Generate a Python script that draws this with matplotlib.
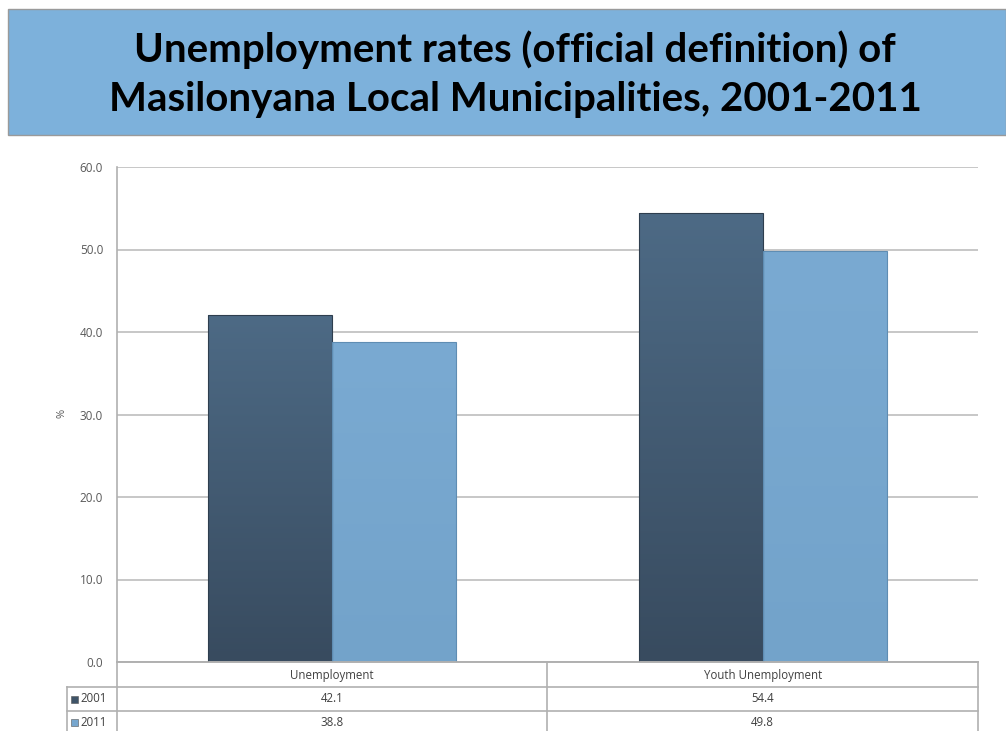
import matplotlib
matplotlib.use("Agg")
import matplotlib.pyplot as plt
import numpy as np
from matplotlib.patches import Rectangle
import matplotlib.transforms as mtransforms

categories = ["Unemployment", "Youth Unemployment"]
series_names = ["2001", "2011"]
values_2001 = [42.1, 54.4]
values_2011 = [38.8, 49.8]
yticks = [0, 10, 20, 30, 40, 50, 60]
title_lines = ["Unemployment rates (official definition) of",
               "Masilonyana Local Municipalities, 2001-2011"]

W, H = 1006, 731
fig = plt.figure(figsize=(W / 100, H / 100), dpi=100)
fig.patch.set_facecolor("white")

def fy(p):
    return 1 - p / H
def fx(p):
    return p / W

# Title banner
banner = Rectangle((fx(8), fy(135)), 1 - fx(8), (135 - 9) / H, transform=fig.transFigure,
                   facecolor="#7DB1DB", edgecolor="#9a9a9a", lw=1.0, zorder=0)
fig.patches.append(banner)
for line, yy in zip(title_lines, [50, 99]):
    fig.text(fx(515), fy(yy), line, ha="center", va="center", fontsize=29,
             fontweight="bold", family="Lato", color="black")

ax = fig.add_axes([fx(117), fy(662), (978 - 117) / W, (662 - 167) / H])
ax.set_xlim(-0.5, 1.5)
ax.set_ylim(0, 60)
ax.set_yticks(yticks)
ax.set_yticklabels([f"{t:.1f}" for t in yticks], fontsize=8.5, color="#595959", family="Open Sans")
ax.set_xticks([])
ax.tick_params(axis="y", length=0, pad=10)
ax.grid(axis="y", color="#bdbdbd", lw=1.2)
ax.set_axisbelow(True)
for s in ["top", "right"]:
    ax.spines[s].set_visible(False)
ax.spines["left"].set_color("#b0b0b0")
ax.spines["left"].set_linewidth(1.2)
ax.spines["bottom"].set_color("#b0b0b0")
ax.spines["bottom"].set_linewidth(1.2)
fig.text(fx(62), fy(413), "%", rotation=90, ha="center", va="center", fontsize=8,
         color="#595959", family="Open Sans")

bw = 0.288
x = np.arange(len(categories))
colors_top = ["#4D6A85", "#7AAAD2"]
colors_bot = ["#384B5F", "#73A3CA"]
edge = ["#2E3E4E", "#5F8DB3"]

def gradient_bar(xc, h, ctop, cbot, ec):
    from matplotlib.colors import to_rgb
    top = np.array(to_rgb(ctop)); bot = np.array(to_rgb(cbot))
    n = 100
    t = np.linspace(0, 1, n)[:, None]
    img = (bot * (1 - t) + top * t)[:, None, :]
    im = ax.imshow(img, extent=(xc - bw / 2, xc + bw / 2, 0, h), origin="lower",
                   aspect="auto", zorder=2, interpolation="bilinear")
    r = Rectangle((xc - bw / 2, 0), bw, h, facecolor="none", edgecolor=ec, lw=0.8, zorder=3)
    ax.add_patch(r)
    im.set_clip_path(r)

for i in range(len(categories)):
    gradient_bar(x[i] - bw / 2, values_2001[i], colors_top[0], colors_bot[0], edge[0])
    gradient_bar(x[i] + bw / 2, values_2011[i], colors_top[1], colors_bot[1], edge[1])
ax.set_xlim(-0.5, 1.5)
ax.set_ylim(0, 60)

# Data table below the axes
bt = mtransforms.blended_transform_factory(ax.transData, fig.transFigure)
ft = fig.transFigure
lc = "#b0b0b0"
fig.add_artist(plt.Line2D([fx(117), fx(978)], [fy(662), fy(662)], color=lc, lw=1.2, transform=ft))
for yy in [687, 711]:
    fig.add_artist(plt.Line2D([fx(67), fx(978)], [fy(yy), fy(yy)], color=lc, lw=1.2, transform=ft))
fig.add_artist(plt.Line2D([fx(67), fx(67)], [fy(687), fy(731)], color=lc, lw=1.2, transform=ft))
for xx in [117, 547, 978]:
    fig.add_artist(plt.Line2D([fx(xx), fx(xx)], [fy(662), fy(731)], color=lc, lw=1.2, transform=ft))

tfs = 8.3
for i, c in enumerate(categories):
    ax.text(x[i], fy(675), c, transform=bt, ha="center", va="center", fontsize=tfs,
            color="#404040", family="Open Sans")
    ax.text(x[i], fy(699), f"{values_2001[i]:.1f}", transform=bt, ha="center", va="center",
            fontsize=tfs, color="#404040", family="Open Sans")
    ax.text(x[i], fy(722), f"{values_2011[i]:.1f}", transform=bt, ha="center", va="center",
            fontsize=tfs, color="#404040", family="Open Sans")

key_colors = ["#3F5468", "#76A6CE"]
for j, (name, yy) in enumerate(zip(series_names, [699, 722])):
    fig.patches.append(Rectangle((fx(71), fy(yy + 3.5)), 7 / W, 7 / H, transform=ft,
                                 facecolor=key_colors[j], edgecolor="#555555", lw=0.4))
    fig.text(fx(80), fy(yy), name, ha="left", va="center", fontsize=tfs, color="#404040",
             family="Open Sans")

fig.savefig("out.png", dpi=100)
